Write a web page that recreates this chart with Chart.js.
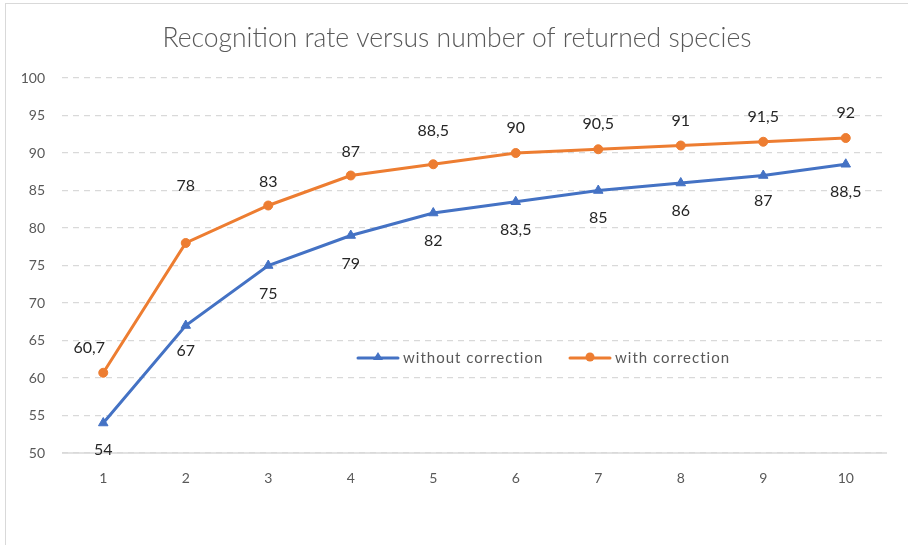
<!DOCTYPE html>
<html>
<head>
<meta charset="utf-8">
<script src="https://cdn.jsdelivr.net/npm/chart.js@4"></script>
<style>
  html, body { margin: 0; padding: 0; background: #fff; }
  #wrap { position: relative; width: 908px; height: 545px; overflow: hidden; }
  #frame { position: absolute; left: 5px; top: 3px; width: 920px; height: 560px; border: 1px solid #d9d9d9; box-sizing: border-box; }
  canvas { position: absolute; left: 0; top: 0; }
</style>
</head>
<body>
<div id="wrap">
  <div id="frame"></div>
  <canvas id="c" width="908" height="545"></canvas>
</div>
<script>
const chartTitle = "Recognition rate versus number of returned species";
const categories = ["1", "2", "3", "4", "5", "6", "7", "8", "9", "10"];
const seriesNames = ["without correction", "with correction"];
const withoutCorrection = [54, 67, 75, 79, 82, 83.5, 85, 86, 87, 88.5];
const withCorrection = [60.7, 78, 83, 87, 88.5, 90, 90.5, 91, 91.5, 92];
const yTicks = [50, 55, 60, 65, 70, 75, 80, 85, 90, 95, 100];

const BLUE = "#4472C4";
const ORANGE = "#ED7D31";
const FONT = "Lato, 'Open Sans', sans-serif";

// label placement (styles, not data)
const labelOffsets = [
  { dx: [0,0,0,0,0,0,0,0,0,0], dy: [27,25,28,28,28,28,27,28,25,28] },
  { dx: [-14,0,0,0,0,0,0,0,0,0], dy: [-25,-57,-24,-24,-33,-25,-25,-25,-25,-25] }
];

const fmt = v => String(v).replace(".", ",");

const overlay = {
  id: "overlay",
  afterDatasetsDraw(chart) {
    const ctx = chart.ctx;
    ctx.save();
    // data labels
    chart.data.datasets.forEach((ds, di) => {
      const meta = chart.getDatasetMeta(di);
      meta.data.forEach((pt, i) => {
        ctx.font = "16px " + FONT;
        ctx.fillStyle = "#262626";
        ctx.textAlign = "center";
        ctx.textBaseline = "middle";
        ctx.fillText(fmt(ds.data[i]), pt.x + labelOffsets[di].dx[i], pt.y + labelOffsets[di].dy[i]);
      });
    });
    // title
    ctx.font = "300 26.5px " + FONT;
    ctx.fillStyle = "#595959";
    ctx.textAlign = "center";
    ctx.textBaseline = "middle";
    ctx.fillText(chartTitle, 457, 38);
    // legend inside
    const items = [
      { x: 358, text: seriesNames[0], color: BLUE, shape: "triangle" },
      { x: 570, text: seriesNames[1], color: ORANGE, shape: "circle" }
    ];
    const ly = 358;
    items.forEach(it => {
      ctx.strokeStyle = it.color;
      ctx.lineWidth = 3;
      ctx.lineCap = "round";
      ctx.beginPath();
      ctx.moveTo(it.x, ly);
      ctx.lineTo(it.x + 40, ly);
      ctx.stroke();
      ctx.fillStyle = it.color;
      ctx.beginPath();
      if (it.shape === "circle") {
        ctx.arc(it.x + 20, ly - 1, 4.5, 0, Math.PI * 2);
      } else {
        ctx.moveTo(it.x + 20, ly - 6);
        ctx.lineTo(it.x + 25, ly + 2);
        ctx.lineTo(it.x + 15, ly + 2);
        ctx.closePath();
      }
      ctx.fill();
      ctx.font = "15px " + FONT;
      ctx.letterSpacing = "1px";
      ctx.fillStyle = "#595959";
      ctx.textAlign = "left";
      ctx.textBaseline = "middle";
      ctx.fillText(it.text, it.x + 45, ly);
      ctx.letterSpacing = "0px";
    });
    ctx.restore();
  }
};

new Chart(document.getElementById("c"), {
  type: "line",
  data: {
    labels: categories,
    datasets: [
      {
        label: seriesNames[0],
        data: withoutCorrection,
        borderColor: BLUE,
        backgroundColor: BLUE,
        borderWidth: 3,
        pointStyle: "triangle",
        pointRadius: 5.5,
        pointBorderWidth: 1,
        tension: 0
      },
      {
        label: seriesNames[1],
        data: withCorrection,
        borderColor: ORANGE,
        backgroundColor: ORANGE,
        borderWidth: 3,
        pointStyle: "circle",
        pointRadius: 4.5,
        pointBorderWidth: 1,
        tension: 0
      }
    ]
  },
  options: {
    responsive: false,
    animation: false,
    devicePixelRatio: 1,
    layout: { padding: { left: 0, right: 21, top: 78, bottom: 0 } },
    plugins: {
      legend: { display: false },
      title: { display: false },
      tooltip: { enabled: false }
    },
    scales: {
      x: {
        offset: true,
        grid: { display: false, drawTicks: false },
        border: { display: false },
        ticks: { color: "#595959", font: { family: FONT, size: 14 }, padding: 17 },
        afterFit(s) { s.height = 92; }
      },
      y: {
        min: 50,
        max: 100,
        afterBuildTicks(s) { s.ticks = yTicks.map(v => ({ value: v })); },
        grid: {
          drawTicks: false,
          color: "#d9d9d9",
          lineWidth: 1.3
        },
        border: { display: false, dash: [6, 5] },
        ticks: { color: "#595959", font: { family: FONT, size: 14 }, padding: 17 },
        afterFit(s) { s.width = 62; }
      }
    }
  },
  plugins: [overlay, {
    id: "solidBase",
    beforeDatasetsDraw(chart) {
      const { ctx, chartArea } = chart;
      ctx.save();
      ctx.strokeStyle = "#d9d9d9";
      ctx.lineWidth = 1.5;
      ctx.beginPath();
      ctx.moveTo(chartArea.left, chartArea.bottom);
      ctx.lineTo(chartArea.right, chartArea.bottom);
      ctx.stroke();
      ctx.restore();
    }
  }]
});
</script>
</body>
</html>
